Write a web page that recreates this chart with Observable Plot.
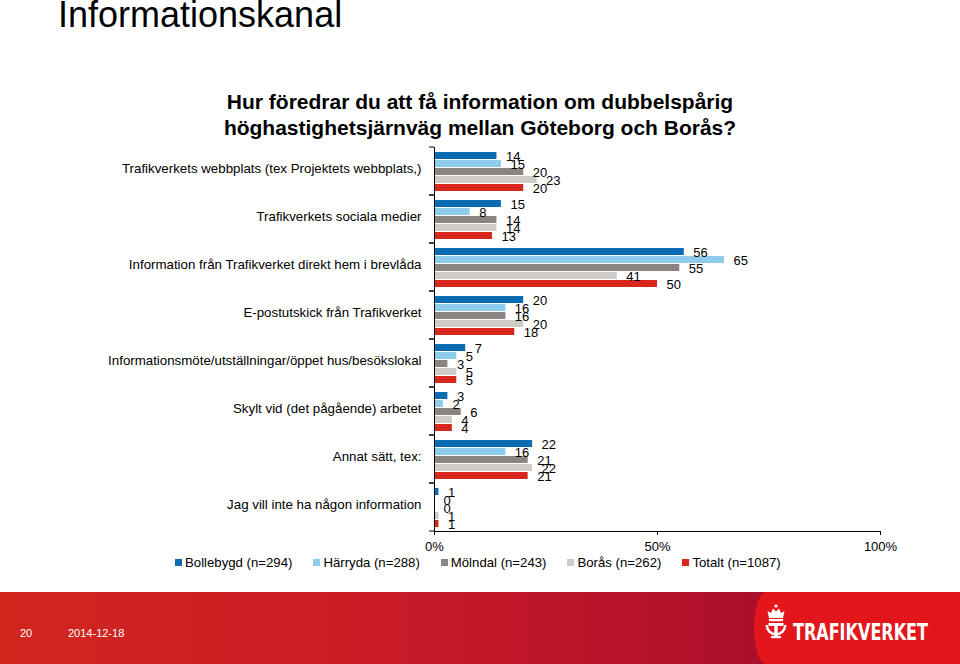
<!DOCTYPE html>
<html>
<head>
<meta charset="utf-8">
<script src="https://cdn.jsdelivr.net/npm/d3@7"></script>
<script src="https://cdn.jsdelivr.net/npm/@observablehq/plot@0.6"></script>
<style>
  html, body { margin: 0; padding: 0; background: #fff; }
  body { width: 960px; height: 664px; position: relative; overflow: hidden; font-family: "Liberation Sans", Arial, sans-serif; color: #000; }
  #chart { position: absolute; left: 0; top: 0; }
  .title { position: absolute; left: 58px; top: 0; font-size: 36px; line-height: 30px; white-space: nowrap; }
  .subtitle { position: absolute; left: 0; width: 960px; top: 89px; text-align: center; font-size: 21px; line-height: 26px; font-weight: bold; }
  .subtitle div { width: 960px; text-align: center; }
  .legend { position: absolute; left: 175px; top: 555px; display: flex; gap: 21px; font-size: 13.2px; line-height: 16px; white-space: nowrap; }
  .legend span.sw { display: inline-block; width: 7px; height: 7px; margin-right: 3px; vertical-align: 1px; }
  .footer { position: absolute; left: 0; top: 592px; width: 960px; height: 72px; background: linear-gradient(to right, #d1261e 0%, #c81c27 40%, #b8132a 65%, #a90f2b 80%); }
  .panel { position: absolute; left: 754px; top: 0; width: 206px; height: 72px; background: #e3161b; border-radius: 12px 0 0 12px / 50% 0 0 50%; }
  .date { position: absolute; top: 627px; font-size: 11px; color: #fff; }
</style>
</head>
<body>
<div id="chart"></div>
<div class="title">Informationskanal</div>
<div class="subtitle"><div>Hur föredrar du att få information om dubbelspårig</div><div>höghastighetsjärnväg mellan Göteborg och Borås?</div></div>
<div class="legend" id="legend"></div>
<div class="footer"><div class="panel">
  <svg width="200" height="72" style="position:absolute;left:6px;top:0">
    <g fill="#fff">
      <circle cx="16" cy="14" r="1.6"/>
      <path d="M9 26 L7.5 19 L11 21 L13 16.5 L16 19.5 L19 16.5 L21 21 L24.5 19 L23 26 Z"/>
      <rect x="9" y="27" width="14" height="2.2"/>
      <path d="M5.5 33 A10.5 10.5 0 0 0 26.5 33 L24 33 A8 8 0 0 1 8 33 Z"/>
      <rect x="8.5" y="31" width="15" height="3"/>
      <rect x="14.3" y="31" width="3.4" height="14"/>
      <rect x="11" y="44" width="10" height="2.2"/>
    </g>
    <g transform="translate(33,48) scale(1,1.3)">
      <text x="0" y="0" fill="#fff" font-family="'Liberation Sans Narrow', 'DejaVu Sans Condensed', Arial, sans-serif" font-weight="bold" font-size="18" textLength="135" lengthAdjust="spacingAndGlyphs">TRAFIKVERKET</text>
    </g>
  </svg>
</div></div>
<div class="date" style="left:20px">20</div>
<div class="date" style="left:68px">2014-12-18</div>
<script>
// ---- data ----
const categories = [
  "Trafikverkets webbplats (tex Projektets webbplats,)",
  "Trafikverkets sociala medier",
  "Information från Trafikverket direkt hem i brevlåda",
  "E-postutskick från Trafikverket",
  "Informationsmöte/utställningar/öppet hus/besökslokal",
  "Skylt vid (det pågående) arbetet",
  "Annat sätt, tex:",
  "Jag vill inte ha någon information"
];
const series = ["Bollebygd (n=294)", "Härryda (n=288)", "Mölndal (n=243)", "Borås (n=262)", "Totalt (n=1087)"];
const colors = ["#0b6cb3", "#8fcbea", "#8b8480", "#cecac6", "#d9261c"];
const bollebygd = [14, 15, 56, 20, 7, 3, 22, 1];
const harryda   = [15, 8, 65, 16, 5, 2, 16, 0];
const molndal   = [20, 14, 55, 16, 3, 6, 21, 0];
const boras     = [23, 14, 41, 20, 5, 4, 22, 1];
const totalt    = [20, 13, 50, 18, 5, 4, 21, 1];
const xTicks = [0, 50, 100];

const seriesValues = [bollebygd, harryda, molndal, boras, totalt];
const rows = [];
categories.forEach((cat, i) => {
  series.forEach((s, j) => rows.push({cat, series: s, value: seriesValues[j][i]}));
});

// tick marks at facet (category) boundaries on the left axis
const bandTicks = (index, scales, values, dims) => {
  const g = d3.create("svg:g").attr("stroke", "#000");
  const x0 = dims.marginLeft;
  for (const y of [dims.marginTop, dims.height - dims.marginBottom]) {
    g.append("line").attr("x1", x0 - 5).attr("x2", x0).attr("y1", y).attr("y2", y);
  }
  return g.node();
};

const hasAxisMarks = typeof Plot.axisFy === "function";

const marks = [
  Plot.barX(rows, {x: "value", y: "series", fill: "series"}),
  Plot.text(rows, {x: "value", y: "series", text: d => String(d.value), textAnchor: "start", dx: 9, dy: 1, fontSize: 13, fill: "#000"}),
  Plot.ruleX([0], {stroke: "#000"}),
  bandTicks
];
if (hasAxisMarks) {
  marks.push(Plot.axisFy({anchor: "left", tickSize: 0, tickPadding: 13, dy: -3, label: null, fontSize: 13.3}));
}

const chart = Plot.plot({
  width: 960,
  height: 570,
  marginTop: 145,
  marginBottom: 38,
  marginLeft: 434,
  marginRight: 80,
  style: {fontFamily: "'Liberation Sans', Arial, sans-serif", fontSize: "13px", color: "#000", background: "transparent", overflow: "visible"},
  x: {domain: [0, 100], ticks: xTicks, tickFormat: d => d + "%", line: true, label: null, tickSize: 4, tickPadding: 6},
  y: {domain: series, axis: null, paddingInner: 0.16, paddingOuter: 0.37},
  fy: {domain: categories, paddingInner: 0, paddingOuter: 0, label: null, tickSize: 0, tickPadding: 13, ...(hasAxisMarks ? {axis: null} : {axis: "left"})},
  color: {domain: series, range: colors},
  facet: {data: rows, y: "cat", label: null},
  marks
});
document.getElementById("chart").appendChild(chart);

// legend
const legend = document.getElementById("legend");
series.forEach((s, j) => {
  const item = document.createElement("div");
  const sw = document.createElement("span");
  sw.className = "sw";
  sw.style.background = colors[j];
  item.appendChild(sw);
  item.appendChild(document.createTextNode(s));
  legend.appendChild(item);
});
</script>
</body>
</html>
